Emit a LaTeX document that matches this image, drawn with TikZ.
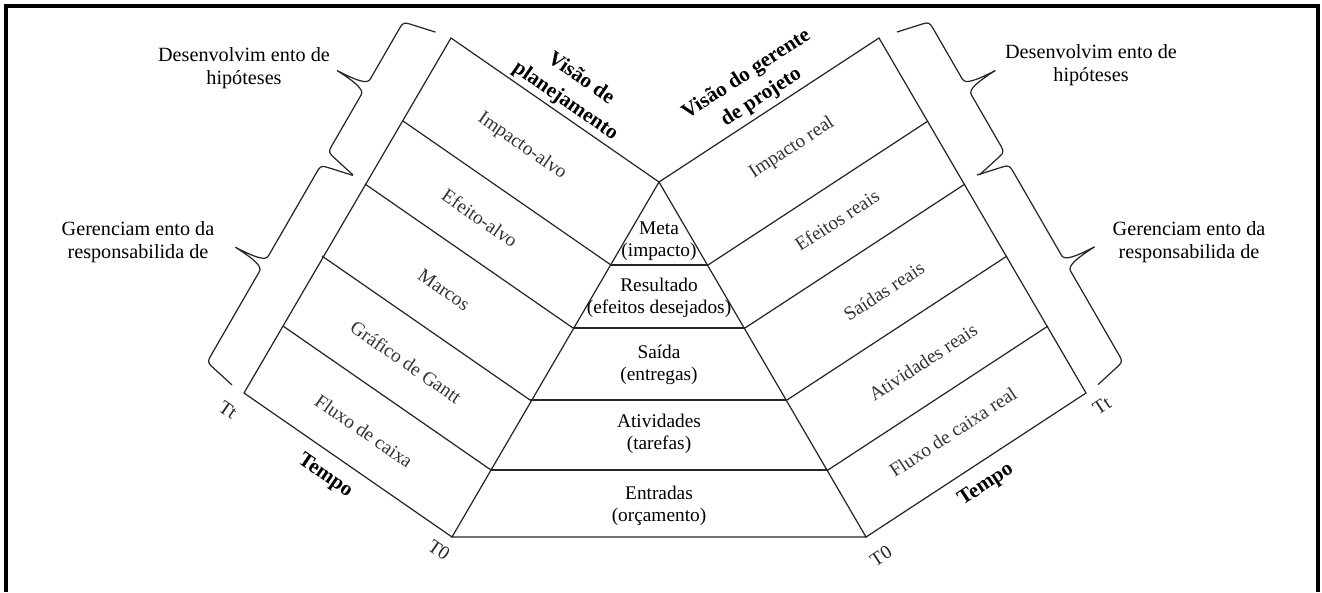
\documentclass[tikz,border=0pt]{standalone}
\usepackage{fontspec}
\setmainfont{Liberation Serif}
\usetikzlibrary{positioning}
\usetikzlibrary{calc}

\tikzstyle{layer} = [align=center, font=\fontsize{11}{12.5}\selectfont]
\tikzstyle{band} = [font=\fontsize{11}{13}\selectfont, text=black!80]
\tikzstyle{view} = [align=center, font=\bfseries\fontsize{12}{15.5}\selectfont]
\tikzstyle{note} = [align=center, font=\fontsize{11.5}{13}\selectfont]
\tikzstyle{tick} = [font=\fontsize{11}{13}\selectfont, text=black!85]
\tikzstyle{edge line} = [line width=0.7pt, black!85]
\tikzstyle{bracket} = [line width=0.7pt, black!85]

% brace along a panel side: start, angle, length (px)
\newcommand{\sidebrace}[3]{%
  \begin{scope}[shift={(#1)}, rotate=#2, x=0.02cm, y=0.02cm]
    \draw[bracket] (0,0) -- (6,27) .. controls (7,32) and (9,33) .. (14,33)
      -- ({#3/2-9},33) .. controls ({#3/2-3},33) and ({#3/2-1},44) .. ({#3/2},66)
      .. controls ({#3/2+1},44) and ({#3/2+3},33) .. ({#3/2+9},33)
      -- ({#3-14},33) .. controls ({#3-9},33) and ({#3-7},32) .. ({#3-6},27) -- (#3,0);
  \end{scope}}

\begin{document}
\begin{tikzpicture}[x=0.02cm, y=-0.02cm]
  \useasboundingbox (0,0) rectangle (1322,592);
  \draw[line width=1.8pt] (6,592) -- (6,6) -- (1318,6) -- (1318,592);

  % pyramid
  \coordinate (apex) at (659,182);
  \coordinate (pl0) at (apex);
  \coordinate (pr0) at (apex);
  \foreach \n/\xl/\xr/\yy in {1/611/708/265, 2/573/745/328, 3/530/787/400, 4/491/828/470, 5/452/866/537} {
    \coordinate (pl\n) at (\xl,\yy);
    \coordinate (pr\n) at (\xr,\yy);
  }
  \foreach \n in {0,...,5} {
    \coordinate (ol\n) at ($(pl\n)+(-208,-144)$);
    \coordinate (or\n) at ($(pr\n)+(220,-144)$);
  }

  \draw[edge line] (apex) -- (pl5) -- (pr5) -- cycle;
  \foreach \n in {1,...,4} \draw[edge line] (pl\n) -- (pr\n);
  \draw[edge line] (apex) -- (ol0) -- (ol5) -- (pl5);
  \draw[edge line] (apex) -- (or0) -- (or5) -- (pr5);
  \foreach \n in {1,...,4} {
    \draw[edge line] (pl\n) -- (ol\n);
    \draw[edge line] (pr\n) -- (or\n);
  }

  \node[layer] (meta) at (659,241) {Meta\\(impacto)};
  \node[layer] (resultado) at (659,298) {Resultado\\(efeitos desejados)};
  \node[layer] (saida) at (659,365) {Saída\\(entregas)};
  \node[layer] (atividades) at (659,434) {Atividades\\(tarefas)};
  \node[layer] (entradas) at (659,506) {Entradas\\(orçamento)};

  % planning side
  \node[band, rotate=-34.7] (impactoalvo) at (522,146) {Impacto-alvo};
  \node[band, rotate=-34.7] (efeitoalvo) at (480,218) {Efeito-alvo};
  \node[band, rotate=-34.7] (marcos) at (444,290) {Marcos};
  \node[band, rotate=-34.7] (gantt) at (406,362) {Gráfico de Gantt};
  \node[band, rotate=-34.7] (fluxo) at (364,431) {Fluxo de caixa};

  % manager side
  \node[band, rotate=33.2] (impactoreal) at (792,148) {Impacto real};
  \node[band, rotate=33.2] (efeitosreais) at (837,220) {Efeitos reais};
  \node[band, rotate=33.2] (saidasreais) at (884,291) {Saídas reais};
  \node[band, rotate=33.2] (atividadesreais) at (923,362) {Atividades reais};
  \node[band, rotate=33.2] (fluxoreal) at (953,432) {Fluxo de caixa real};

  \node[view, rotate=-34.7] (visaoplan) at (573,90) {Visão de\\planejamento};
  \node[view, rotate=33.2] (visaogerente) at (754,86) {Visão do gerente\\de projeto};
  \node[view, rotate=-34.7] (tempoesq) at (325,476) {Tempo};
  \node[view, rotate=33.2] (tempodir) at (986,485) {Tempo};

  \node[tick, rotate=-34.7] (ttesq) at (228,410) {Tt};
  \node[tick, rotate=-34.7] (tzeroesq) at (439,550) {T0};
  \node[tick, rotate=33.2] (ttdir) at (1102,406) {Tt};
  \node[tick, rotate=33.2] (tzerodir) at (881,556) {T0};

  % brackets and their notes
  \coordinate (hipL) at (353,175);
  \coordinate (respL) at (232,385);
  \coordinate (hipR) at (897,32);
  \coordinate (respR) at (977,175);
  \sidebrace{hipL}{60}{165}
  \sidebrace{respL}{60}{242}
  \sidebrace{hipR}{-60}{165}
  \sidebrace{respR}{-60}{242}

  \node[note] (hipesq) at (244,68) {Desenvolvim ento de\\hipóteses};
  \node[note] (respesq) at (138,242) {Gerenciam ento da\\responsabilida de};
  \node[note] (hipdir) at (1091,65) {Desenvolvim ento de\\hipóteses};
  \node[note] (respdir) at (1189,242) {Gerenciam ento da\\responsabilida de};
\end{tikzpicture}
\end{document}
